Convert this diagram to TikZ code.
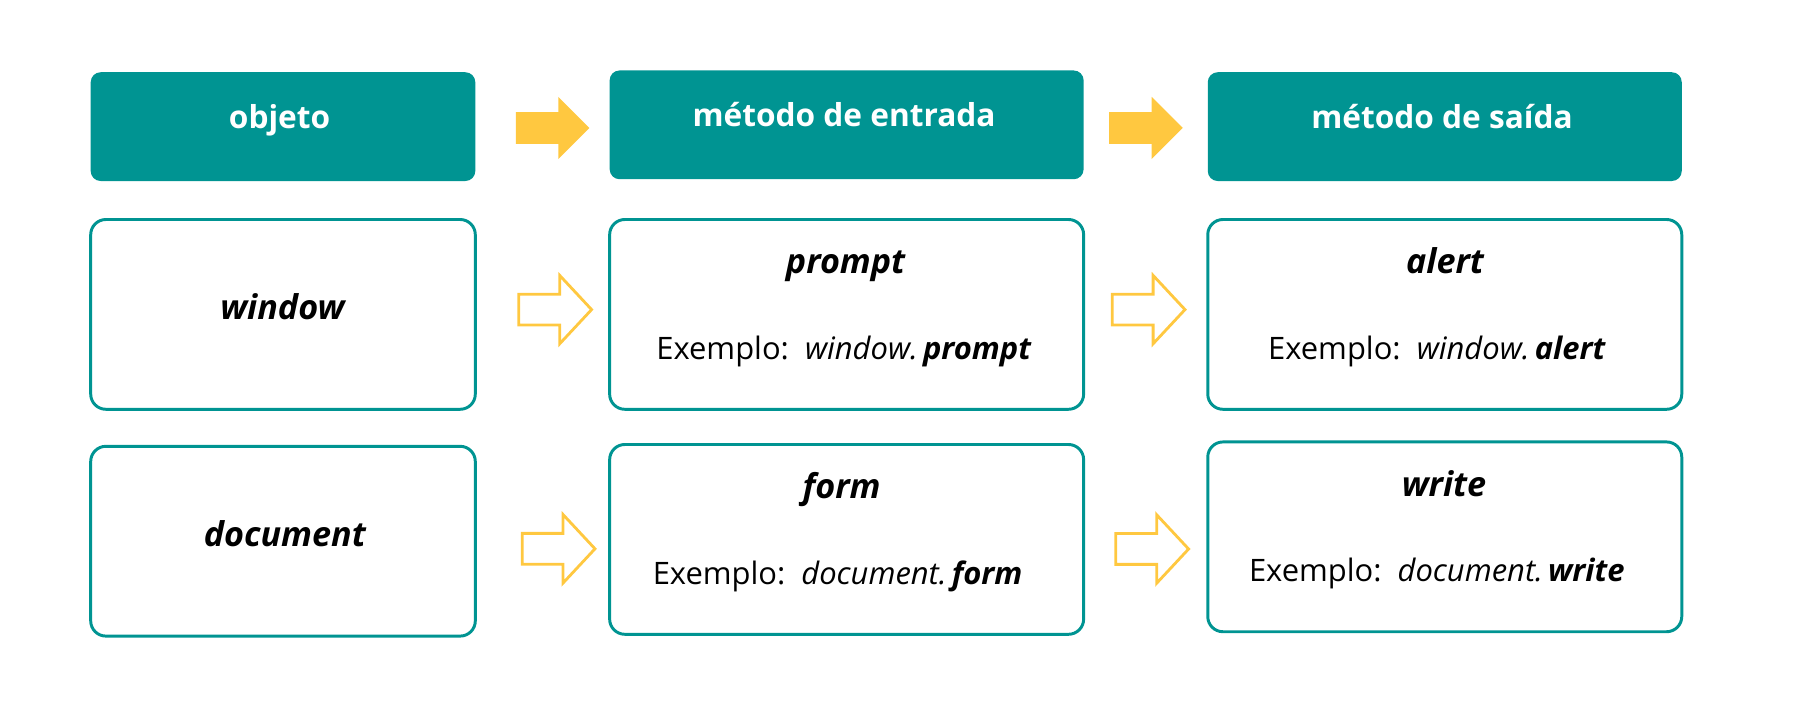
\documentclass[tikz,border=0pt]{standalone}
\usepackage{fontspec}
\setmainfont{Open Sans}
\usetikzlibrary{shapes.arrows}
\definecolor{boxteal}{RGB}{0,148,146}
\definecolor{arrowyellow}{RGB}{255,200,64}
\begin{document}
\begin{tikzpicture}[
  headbox/.style={shape=rectangle, fill=boxteal, rounded corners=0.25cm, minimum height=2.72cm, inner sep=0pt},
  itembox/.style={shape=rectangle, draw=boxteal, line width=2.1pt, rounded corners=0.38cm, minimum height=4.745cm, inner sep=0pt},
  headtext/.style={anchor=base, inner sep=0pt, text=white, font=\fontsize{22.5}{27}\selectfont\bfseries},
  nametext/.style={anchor=base, inner sep=0pt, font=\fontsize{24.3}{29}\selectfont\bfseries\itshape},
  exampletext/.style={anchor=base, inner sep=0pt, font=\fontsize{22}{26}\selectfont},
  fillarrow/.style={single arrow, fill=arrowyellow, inner sep=0pt, text height=0.78cm, text depth=0pt, minimum height=1.84cm, single arrow head extend=0.38cm, single arrow tip angle=90},
  linearrow/.style={single arrow, draw=arrowyellow, line width=2pt, inner sep=0pt, text height=0.7cm, text depth=0pt, minimum height=1.82cm, single arrow head extend=0.47cm, single arrow tip angle=94}
]
\useasboundingbox (0,0) rectangle (45,17.925);

%draw header boxes
\node [headbox, minimum width=9.615cm] at (7.075,14.759) (obj) {};
\node [headbox, minimum width=11.85cm] at (21.166,14.804) (entrada) {};
\node [headbox, minimum width=11.85cm] at (36.119,14.759) (saida) {};
\node [headtext] at (6.99,14.7175) (obj_t) {objeto};
\node [headtext] at (21.1,14.7625) (entrada_t) {método de entrada};
\node [headtext] at (36.05,14.7175) (saida_t) {método de saída};

%draw window row
\node [itembox, minimum width=9.615cm] at (7.075,10.065) (win) {};
\node [itembox, minimum width=11.85cm] at (21.166,10.065) (prompt) {};
\node [itembox, minimum width=11.85cm] at (36.119,10.065) (alert) {};
\node [nametext] at (7.06,9.9375) (win_t) {window};
\node [nametext] at (21.14,11.075) (prompt_t) {prompt};
\node [exampletext] at (21.1,8.9425) (prompt_ex) {Exemplo:\ \ \textit{window.}\,\textbf{\textit{prompt}}};
\node [nametext] at (36.125,11.075) (alert_t) {alert};
\node [exampletext] at (35.925,8.9425) (alert_ex) {Exemplo:\ \ \textit{window.}\,\textbf{\textit{alert}}};

%draw document row
\node [itembox, minimum width=9.615cm] at (7.075,4.395) (doc) {};
\node [itembox, minimum width=11.85cm] at (21.166,4.44) (form) {};
\node [itembox, minimum width=11.85cm] at (36.119,4.504) (write) {};
\node [nametext] at (7.12,4.2675) (doc_t) {document};
\node [nametext] at (21.04,5.45) (form_t) {form};
\node [exampletext] at (20.94,3.3175) (form_ex) {Exemplo:\ \ \textit{document.}\,\textbf{\textit{form}}};
\node [nametext] at (36.1,5.5137) (write_t) {write};
\node [exampletext] at (35.92,3.381) (write_ex) {Exemplo:\ \ \textit{document.}\,\textbf{\textit{write}}};

%arrows between columns
\node [fillarrow] at (13.616,14.725) (arr_h1) {};
\node [fillarrow] at (28.45,14.725) (arr_h2) {};
\node [linearrow] at (13.7,10.185) (arr_w1) {};
\node [linearrow] at (28.535,10.185) (arr_w2) {};
\node [linearrow] at (13.785,4.205) (arr_d1) {};
\node [linearrow] at (28.625,4.2) (arr_d2) {};
\end{tikzpicture}
\end{document}
